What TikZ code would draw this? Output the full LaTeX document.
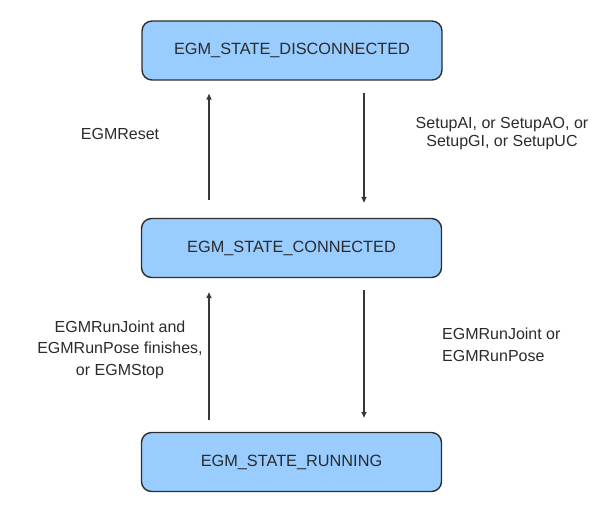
\documentclass[tikz,border=0pt]{standalone}
\usepackage{fontspec}
\setmainfont{Liberation Sans}
\usetikzlibrary{arrows.meta}
\definecolor{boxfill}{HTML}{99CCFF}
\definecolor{boxline}{HTML}{2E2E2E}
\definecolor{txt}{HTML}{2B2B2B}
\definecolor{arrcol}{HTML}{383838}
\tikzset{
  statebox/.style={draw=boxline, line width=1.4pt, fill=boxfill, rounded corners=10pt,
    minimum width=300pt, minimum height=59pt, inner sep=0pt, text=txt,
    font=\fontsize{16.3}{19}\selectfont},
  trans/.style={draw=arrcol, line width=1.6pt, -{Triangle[length=6pt,width=5pt]}},
  lbl/.style={text=txt, inner sep=0pt, align=center},
}
\begin{document}
\begin{tikzpicture}[x=1pt,y=-1pt]
\useasboundingbox (0,0) rectangle (596,512);
\node[statebox] (disc) at (292,50.5) {EGM\_STATE\_DISCONNECTED};
\node[statebox] (conn) at (291.5,248) {EGM\_STATE\_CONNECTED};
\node[statebox] (run) at (291.5,462) {EGM\_STATE\_RUNNING};
\coordinate (lx) at (209,0);
\coordinate (rx) at (364,0);
\draw[trans, shorten <=12pt, shorten >=15pt] (disc.south -| rx) -- (conn.north -| rx);
\draw[trans, shorten <=18pt, shorten >=13pt] (conn.north -| lx) -- (disc.south -| lx);
\draw[trans, shorten <=12pt, shorten >=14pt] (conn.south -| rx) -- (run.north -| rx);
\draw[trans, shorten <=12pt, shorten >=14pt] (run.north -| lx) -- (conn.south -| lx);
\node[lbl, font=\fontsize{16}{19}\selectfont] (l1) at (120,134) {EGMReset};
\node[lbl, font=\fontsize{16}{18.5}\selectfont] (l2) at (502,133.5) {SetupAI, or SetupAO, or\\SetupGI, or SetupUC};
\node[lbl, font=\fontsize{16}{21.5}\selectfont] (l3) at (120,349.5) {EGMRunJoint and\\EGMRunPose finishes,\\or EGMStop};
\node[lbl, align=left, anchor=west, font=\fontsize{16}{22}\selectfont] (l4) at (442,345) {EGMRunJoint or\\EGMRunPose};
\end{tikzpicture}
\end{document}
